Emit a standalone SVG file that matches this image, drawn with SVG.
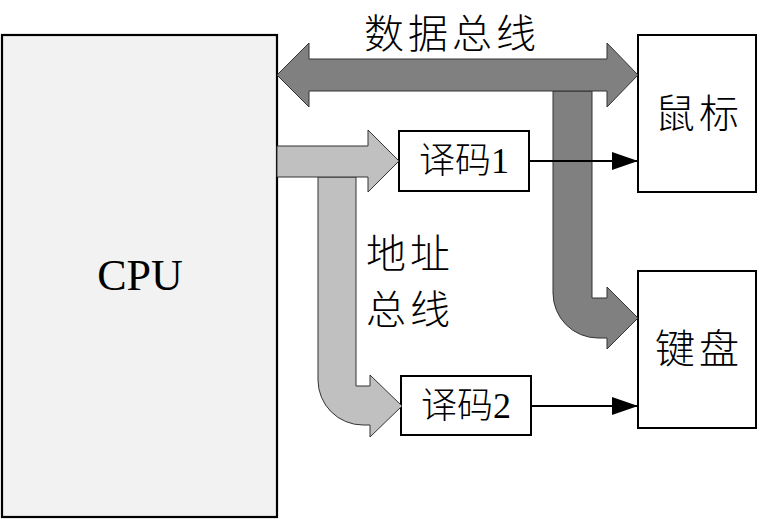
<svg xmlns="http://www.w3.org/2000/svg" width="765" height="519" viewBox="0 0 765 519">
  <style>
    .box { fill: #ffffff; stroke: #000000; stroke-width: 2; }
    .cpu { fill: #f2f2f2; stroke: #000000; stroke-width: 2.2; }
    .dbus { fill: #808080; stroke: #333333; stroke-width: 1; }
    .abus { fill: #c0c0c0; stroke: #333333; stroke-width: 1; }
    .wire { fill: none; stroke: #000000; stroke-width: 2; }
    .cjk { font-family: "Liberation Serif", "Noto Sans CJK SC", serif; font-weight: 300; fill: #000000; }
    .lat { font-family: "Liberation Serif", serif; font-weight: 400; fill: #000000; }
  </style>
  <defs>
    <marker id="tri" markerUnits="userSpaceOnUse" markerWidth="26" markerHeight="18" refX="26" refY="9" orient="auto">
      <path d="M0,0 L26,9 L0,18 z" fill="#000000"/>
    </marker>
  </defs>

  <rect x="0" y="0" width="765" height="519" fill="#ffffff"/>

  <g id="cpu">
    <rect class="cpu" x="2" y="35" width="275" height="482"/>
    <text class="lat" x="140" y="290" font-size="44" text-anchor="middle">CPU</text>
  </g>

  <g id="mouse">
    <rect class="box" x="638" y="35" width="118" height="157"/>
    <text class="cjk" x="699" y="128" font-size="40" text-anchor="middle" letter-spacing="4">鼠标</text>
  </g>

  <g id="keyboard">
    <rect class="box" x="638" y="271" width="118" height="157"/>
    <text class="cjk" x="699" y="363" font-size="40" text-anchor="middle" letter-spacing="4">键盘</text>
  </g>

  <g id="decoder1">
    <rect class="box" x="399" y="131" width="130" height="60"/>
    <text class="cjk" x="464" y="173" font-size="36" text-anchor="middle">译码<tspan class="lat">1</tspan></text>
  </g>

  <g id="decoder2">
    <rect class="box" x="401" y="376" width="130" height="59"/>
    <text class="cjk" x="466" y="418" font-size="36" text-anchor="middle">译码<tspan class="lat">2</tspan></text>
  </g>

  <g id="connectors">
    <!-- data bus: branch down to the keyboard, then the two-way trunk -->
    <path class="dbus" d="M553,91 L553,293 A45,45 0 0 0 598,338 L607,338 L607,349 L638,318 L607,287 L607,298 L592,298 L592,91 Z"/>
    <path class="dbus" d="M277,75 L309,43 L309,59 L607,59 L607,43 L638,75 L607,107 L607,91 L309,91 L309,107 Z"/>

    <!-- address bus: branch down to decoder 2, then trunk to decoder 1 -->
    <path class="abus" d="M318,177 L318,380 A45,45 0 0 0 363,425 L370,425 L370,437 L402,406 L370,375 L370,386 L356,386 L356,177 Z"/>
    <path class="abus" d="M277,146 L368,146 L368,130 L399,161 L368,192 L368,177 L277,177 Z"/>

    <!-- decoder select lines -->
    <line class="wire" x1="529" y1="161" x2="638" y2="161" marker-end="url(#tri)"/>
    <line class="wire" x1="531" y1="406" x2="638" y2="406" marker-end="url(#tri)"/>
  </g>

  <g id="labels">
    <text class="cjk" x="452" y="48" font-size="40" text-anchor="middle" letter-spacing="4">数据总线</text>
    <text class="cjk" x="366" y="268" font-size="40" letter-spacing="4">地址</text>
    <text class="cjk" x="366" y="324" font-size="40" letter-spacing="4">总线</text>
  </g>
</svg>
